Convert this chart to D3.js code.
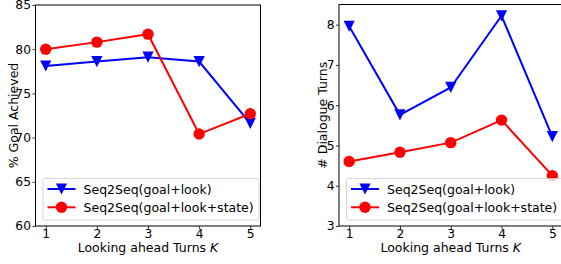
<!DOCTYPE html>
<html><head><meta charset="utf-8">
<script src="https://cdn.jsdelivr.net/npm/d3@7"></script>
<style>
body{margin:0;background:#fff;}
svg{display:block;font-family:"DejaVu Sans",sans-serif;}
</style></head>
<body>
<svg id="c" width="561" height="264"></svg>
<script>
const ks = [1, 2, 3, 4, 5];
const goalLook = [78.1, 78.6, 79.1, 78.6, 71.6];
const goalLookState = [80.0, 80.8, 81.7, 70.4, 72.7];
const turnsLook = [7.96, 5.76, 6.44, 8.22, 5.22];
const turnsLookState = [4.60, 4.83, 5.07, 5.63, 4.25];
const leftTicks = [60, 65, 70, 75, 80, 85];
const rightTicks = [3, 4, 5, 6, 7, 8];
const seriesNames = ["Seq2Seq(goal+look)", "Seq2Seq(goal+look+state)"];
const colors = ["#0000ff", "#ff0000"];

const svg = d3.select("#c");
const triW = 5.6;
const triPath = `M${-triW},${-triW}L${triW},${-triW}L0,${triW}Z`;

function panel(cfg){
  const g = svg.append("g");
  const x = d3.scaleLinear().domain([0.8, 5.2]).range([cfg.x0, cfg.x1]);
  const y = d3.scaleLinear().domain(cfg.ydom).range([226, cfg.ytop]);
  const ax = g.append("g").attr("transform", "translate(0,226)")
    .call(d3.axisBottom(x).tickValues(ks).tickFormat(d3.format("d")).tickSize(3).tickPadding(0.5));
  const ay = g.append("g").attr("transform", `translate(${cfg.x0},0)`)
    .call(d3.axisLeft(y).tickValues(cfg.ticks).tickFormat(d3.format("d")).tickSize(3).tickPadding(1.5));
  [ax, ay].forEach(a => {
    a.select(".domain").remove();
    a.selectAll("text").attr("font-size", 12.3).attr("fill", "#000").attr("font-family", "DejaVu Sans");
    a.selectAll("line").attr("stroke", "#000").attr("stroke-width", 0.8);
  });
  g.append("rect").attr("x", cfg.x0).attr("y", cfg.ytop)
    .attr("width", cfg.x1 - cfg.x0).attr("height", 226 - cfg.ytop)
    .attr("fill", "none").attr("stroke", "#000").attr("stroke-width", 1);
  const line = d3.line().x((d, i) => x(ks[i])).y(d => y(d));
  cfg.series.forEach((s, si) => {
    g.append("path").datum(s).attr("d", line).attr("fill", "none")
      .attr("stroke", colors[si]).attr("stroke-width", 2);
    const m = g.selectAll(null).data(s).enter();
    if (si === 0) {
      m.append("path").attr("d", triPath)
        .attr("transform", (d, i) => `translate(${x(ks[i])},${y(d)})`)
        .attr("fill", colors[0]);
    } else {
      m.append("circle").attr("cx", (d, i) => x(ks[i])).attr("cy", d => y(d))
        .attr("r", 5.7).attr("fill", colors[1]);
    }
  });
  const lg = g.append("g");
  lg.append("rect").attr("x", cfg.lx).attr("y", 178.5).attr("width", cfg.lw).attr("height", 41.5)
    .attr("rx", 2).attr("fill", "#fff").attr("fill-opacity", 0.8).attr("stroke", "#ccc").attr("stroke-width", 0.8);
  seriesNames.forEach((n, si) => {
    const yy = 189 + si * 18.3;
    lg.append("line").attr("x1", cfg.lx + 4.5).attr("x2", cfg.lx + 32.5).attr("y1", yy).attr("y2", yy)
      .attr("stroke", colors[si]).attr("stroke-width", 2);
    const cx = cfg.lx + 18.5;
    if (si === 0) lg.append("path").attr("d", triPath).attr("transform", `translate(${cx},${yy})`).attr("fill", colors[0]);
    else lg.append("circle").attr("cx", cx).attr("cy", yy).attr("r", 5.7).attr("fill", colors[1]);
    lg.append("text").attr("x", cfg.lx + 40.5).attr("y", yy + 4.5).attr("font-size", 12.5).text(n);
  });
  const xl = g.append("text").attr("x", (x(1) + x(5)) / 2).attr("y", 252).attr("text-anchor", "middle").attr("font-size", 12.5);
  xl.append("tspan").text("Looking ahead Turns ");
  xl.append("tspan").attr("font-style", "italic").text("K");
  g.append("text").attr("transform", `translate(${cfg.ylx},${(226 + cfg.ytop) / 2}) rotate(-90)`)
    .attr("text-anchor", "middle").attr("font-size", 12.5).text(cfg.ylabel);
}

panel({x0: 35.5, x1: 260.5, ydom: [60, 85], ytop: 5, ticks: leftTicks,
  series: [goalLook, goalLookState], lx: 43, lw: 216, ylabel: "% Goal Achieved", ylx: 17.5});
panel({x0: 339, x1: 562.5, ydom: [3, 8.5], ytop: 4.5, ticks: rightTicks,
  series: [turnsLook, turnsLookState], lx: 346.5, lw: 216, ylabel: "# Dialogue Turns", ylx: 326.5});
</script>
</body></html>
